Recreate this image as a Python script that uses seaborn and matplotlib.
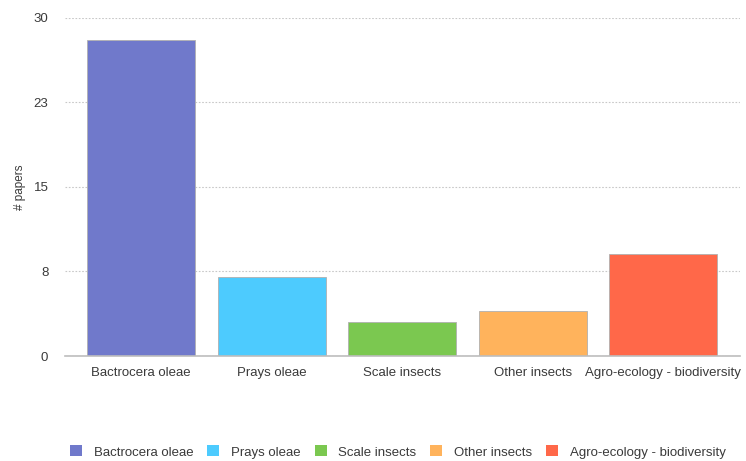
import matplotlib
matplotlib.use("Agg")
import matplotlib.pyplot as plt
import seaborn as sns
import pandas as pd
from matplotlib.patches import Patch

categories = ["Bactrocera oleae", "Prays oleae", "Scale insects", "Other insects", "Agro-ecology - biodiversity"]
values = [28, 7, 3, 4, 9]
colors = ["#7079CB", "#4DCBFE", "#7BC850", "#FFB35C", "#FF6849"]
ytick_vals = [0, 7.5, 15, 22.5, 30]
ytick_labels = ["0", "8", "15", "23", "30"]

sns.set_theme(style="white")
plt.rcParams['font.family'] = ['Liberation Sans', 'DejaVu Sans']

df = pd.DataFrame({"category": categories, "papers": values})

fig = plt.figure(figsize=(7.46, 4.61), dpi=100)
ax = fig.add_axes([65 / 746, 1 - 356 / 461, 675 / 746, (356 - 17.5) / 461])

sns.barplot(data=df, x="category", y="papers", hue="category", palette=colors,
            order=categories, hue_order=categories, width=0.827, dodge=False,
            legend=False, ax=ax, edgecolor="#b0b0b0", linewidth=0.6, saturation=1)

ax.set_ylim(0, 30)
ax.set_xlim(-0.582, 4.587)
ax.set_yticks(ytick_vals)
ax.set_yticklabels(ytick_labels)
ax.yaxis.grid(True, linestyle=(0, (1.5, 1.5)), color="#c8c8c8", linewidth=0.8)
ax.set_axisbelow(True)
for s in ["top", "right", "left"]:
    ax.spines[s].set_visible(False)
ax.spines["bottom"].set_color("#bdbdbd")
ax.spines["bottom"].set_linewidth(1.2)
ax.tick_params(axis="both", length=0, labelsize=9.5, labelcolor="#3a3a3a")
ax.tick_params(axis="y", pad=12)
ax.tick_params(axis="x", pad=8)
ax.set_xlabel("")
ax.set_ylabel("# papers", fontsize=8.5, color="#3a3a3a")
ax.yaxis.set_label_coords(-(65 - 26) / 675, 0.5)

handles = [Patch(facecolor=c, edgecolor="none") for c in colors]
fig.legend(handles, categories, loc="center", bbox_to_anchor=(398 / 746, 1 - 452 / 461), ncol=5,
           frameon=False, fontsize=9.5, handlelength=0.9, handleheight=0.9,
           handletextpad=0.9, columnspacing=1.05, labelcolor="#3a3a3a")

fig.savefig("out.png", dpi=100)
